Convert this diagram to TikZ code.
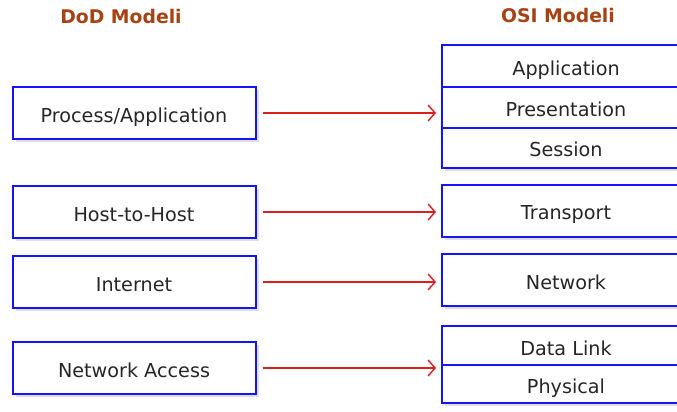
\documentclass[tikz,border=0pt]{standalone}
\usepackage{fontspec}
\setmainfont{DejaVu Sans}
\usetikzlibrary{arrows.meta,shadows}

\definecolor{layerblue}{RGB}{20,20,250}
\definecolor{titlebrown}{RGB}{166,66,20}
\definecolor{linkred}{RGB}{220,30,30}

\begin{document}
\begin{tikzpicture}
  [x=1pt, y=-1pt,
   layer/.style={draw=layerblue, line width=2pt, fill=white, text=black!85,
     font=\fontsize{19.2}{23}\selectfont, text height=20pt, text depth=2pt,
     drop shadow={shadow xshift=3pt, shadow yshift=-3pt, opacity=.25}},
   dod/.style={layer, minimum width=243pt, minimum height=52pt},
   osi/.style={layer, minimum width=248pt},
   title/.style={text=titlebrown, font=\fontsize{18.8}{22}\selectfont\bfseries},
   link/.style={draw=linkred, line width=1.4pt,
     -{Straight Barb[length=7pt, width=16pt, line width=1.4pt]},
     shorten <=6pt, shorten >=5pt}]
  \useasboundingbox (0, 0) rectangle (677, 412);
  \clip (0, 0) rectangle (677, 412);

  \node[title] (doc) at (121, 16) {DoD Modeli};
  \node[title] (osic) at (558, 15) {OSI Modeli};

  % DoD layers
  \node[dod] (pa) at (134, 113) {Process/Application};
  \node[dod] (hh) at (134, 212) {Host-to-Host};
  \node[dod] (in) at (134, 282) {Internet};
  \node[dod] (na) at (134, 368) {Network Access};

  % OSI layers
  \node[osi, minimum height=42pt] (app) at (566, 66.3) {Application};
  \node[osi, minimum height=41pt] (pres) at (566, 107.8) {Presentation};
  \node[osi, minimum height=40pt] (sess) at (566, 147.5) {Session};
  \node[osi, minimum height=52pt] (tr) at (566, 210.5) {Transport};
  \node[osi, minimum height=52pt] (nw) at (566, 280.2) {Network};
  \node[osi, minimum height=40pt] (dl) at (566, 346) {Data Link};
  \node[osi, minimum height=38pt] (ph) at (566, 384.2) {Physical};

  \foreach \from/\to in {pa/pres,hh/tr,in/nw,na/dl}
  \draw[link] (\from.east) -- (\from.east -| \to.west);

\end{tikzpicture}
\end{document}
